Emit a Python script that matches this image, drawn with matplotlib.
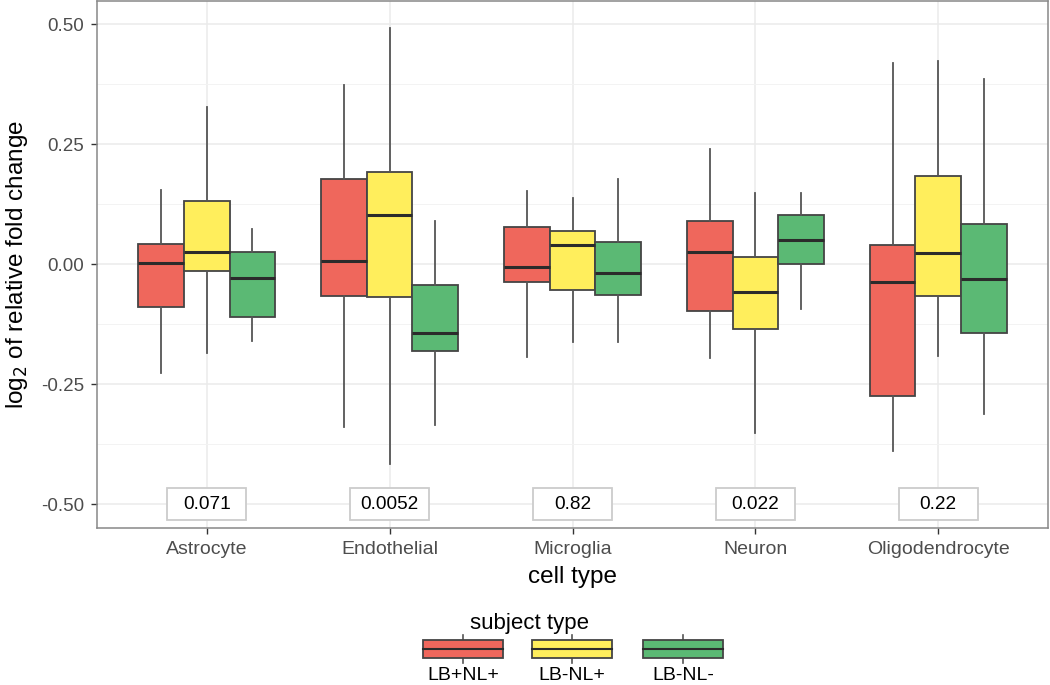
import numpy as np
import matplotlib
matplotlib.use("Agg")
import matplotlib.pyplot as plt
from matplotlib.patches import Rectangle

plt.rcParams['font.family'] = ['Liberation Sans', 'DejaVu Sans']

# data
cell_types = ["Astrocyte", "Endothelial", "Microglia", "Neuron", "Oligodendrocyte"]
groups = ["LB+NL+", "LB-NL+", "LB-NL-"]
colors = ["#EF675C", "#FFEE5C", "#5BB974"]

red_lo = [-0.227, -0.340, -0.194, -0.196, -0.390]
red_q1 = [-0.089, -0.067, -0.037, -0.097, -0.274]
red_med = [0.002, 0.006, -0.006, 0.025, -0.037]
red_q3 = [0.041, 0.177, 0.077, 0.089, 0.040]
red_hi = [0.154, 0.373, 0.152, 0.240, 0.418]

yellow_lo = [-0.185, -0.417, -0.162, -0.353, -0.192]
yellow_q1 = [-0.015, -0.069, -0.054, -0.135, -0.066]
yellow_med = [0.025, 0.102, 0.040, -0.058, 0.024]
yellow_q3 = [0.131, 0.192, 0.069, 0.015, 0.184]
yellow_hi = [0.327, 0.492, 0.138, 0.148, 0.423]

green_lo = [-0.160, -0.335, -0.163, -0.094, -0.313]
green_q1 = [-0.110, -0.181, -0.065, 0.000, -0.143]
green_med = [-0.029, -0.144, -0.019, 0.050, -0.032]
green_q3 = [0.025, -0.044, 0.046, 0.102, 0.083]
green_hi = [0.073, 0.089, 0.177, 0.148, 0.385]

pvalues = ["0.071", "0.0052", "0.82", "0.022", "0.22"]
pvalue_y = -0.5

series = [
    (red_lo, red_q1, red_med, red_q3, red_hi),
    (yellow_lo, yellow_q1, yellow_med, yellow_q3, yellow_hi),
    (green_lo, green_q1, green_med, green_q3, green_hi),
]

W, H = 1050, 685
fig = plt.figure(figsize=(W / 100, H / 100), dpi=100)
ax = fig.add_axes([97 / W, 1 - 528 / H, (1048 - 97) / W, (528 - 1) / H])

x = np.arange(1, len(cell_types) + 1)
box_w = 0.25
offsets = [-box_w, 0, box_w]

# grid
ax.set_axisbelow(True)
ax.set_yticks([-0.5, -0.25, 0, 0.25, 0.5])
ax.set_yticks([-0.375, -0.125, 0.125, 0.375], minor=True)
ax.set_yticklabels(["-0.50", "-0.25", "0.00", "0.25", "0.50"])
ax.grid(True, which='major', color='#EBEBEB', linewidth=1.1)
ax.grid(True, which='minor', axis='y', color='#F3F3F3', linewidth=0.7)

for (lo, q1, med, q3, hi), col, off in zip(series, colors, offsets):
    stats = []
    for i in range(len(cell_types)):
        stats.append(dict(whislo=lo[i], q1=q1[i], med=med[i], q3=q3[i], whishi=hi[i], fliers=[]))
    ax.bxp(stats, positions=x + off, widths=box_w, showcaps=False, showfliers=False,
           patch_artist=True, manage_ticks=False,
           boxprops=dict(facecolor=col, edgecolor='#444444', linewidth=1.3),
           medianprops=dict(color='#2B2B2B', linewidth=2.2),
           whiskerprops=dict(color='#555555', linewidth=1.3))

# p-value labels
for xi, p in zip(x, pvalues):
    ax.add_patch(Rectangle((xi - 0.215, pvalue_y - 0.033), 0.43, 0.066,
                           facecolor='white', edgecolor='#CCCCCC', linewidth=1.3, zorder=5))
    ax.text(xi, pvalue_y, p, ha='center', va='center', fontsize=13.7, color='black', zorder=6)

ax.set_xlim(0.4, 5.6)
ax.set_ylim(-0.55, 0.548)
ax.set_xticks(x)
ax.set_xticklabels(cell_types)
ax.tick_params(axis='x', which='major', labelsize=14, pad=5)
ax.tick_params(axis='y', which='major', labelsize=13.5, pad=5)
ax.tick_params(axis='both', which='major', labelcolor='#4D4D4D',
               color='#333333', length=4, width=1)
ax.tick_params(axis='both', which='minor', length=0)
for s in ax.spines.values():
    s.set_color('#888888')
    s.set_linewidth(1.1)

ax.set_xlabel('cell type', fontsize=17.5, labelpad=6)
ax.set_ylabel('log$_2$ of relative fold change', fontsize=17.5, labelpad=8)

# legend drawn by hand at the bottom
lg = fig.add_axes([0, 0, 1, 1], facecolor='none')
lg.set_xlim(0, W)
lg.set_ylim(H, 0)
lg.axis('off')
lg.text(530, 624, 'subject type', ha='center', va='center', fontsize=16)
key_left = [423, 532, 643]
for kx, col, lab in zip(key_left, colors, groups):
    cx = kx + 40
    lg.plot([cx, cx], [635, 663], color='#555555', linewidth=1.2, zorder=1)
    lg.add_patch(Rectangle((kx, 640), 80, 18, facecolor=col, edgecolor='#444444',
                           linewidth=1.3, zorder=2))
    lg.plot([kx, kx + 80], [649, 649], color='#2B2B2B', linewidth=1.5, zorder=3)
    lg.text(cx, 675, lab, ha='center', va='center', fontsize=14)

fig.savefig('out.png', dpi=100)
